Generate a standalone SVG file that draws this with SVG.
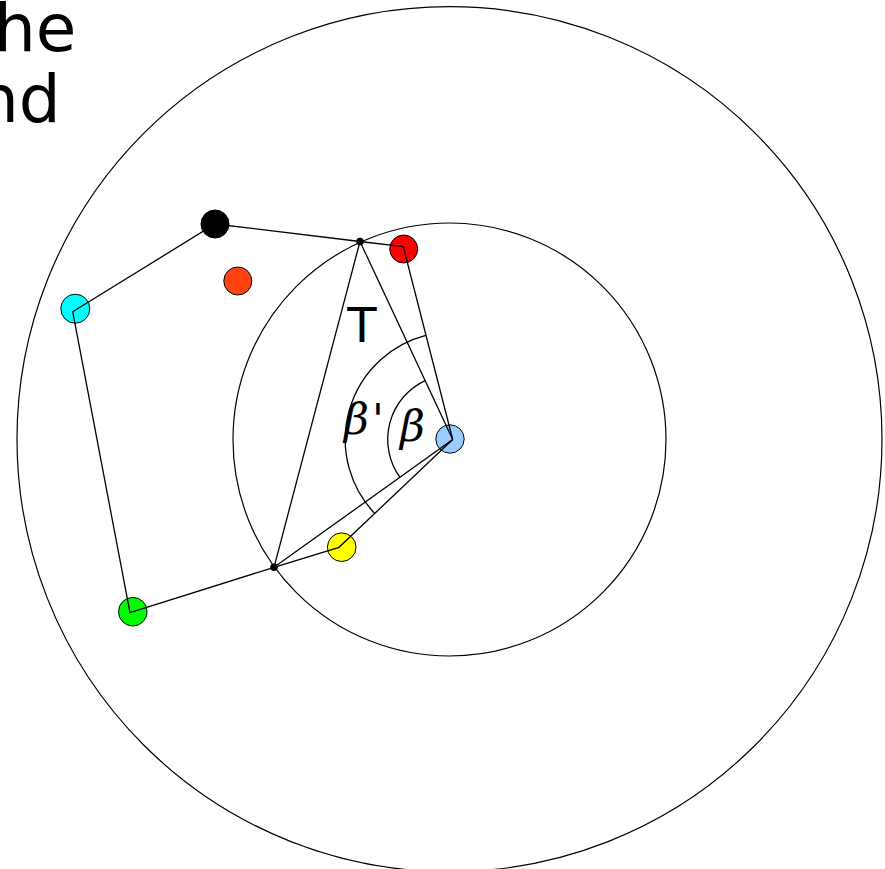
<svg xmlns="http://www.w3.org/2000/svg" width="885" height="869" viewBox="0 0 885 869">
<style>
.ln{fill:none;stroke:#000;stroke-width:1.3}
.ring{fill:none;stroke:#000;stroke-width:1.2}
.nd{stroke:#000;stroke-width:1}
.big{font-family:"DejaVu Sans",sans-serif;font-size:66px;fill:#000}
.lbl{font-family:"DejaVu Sans",sans-serif;font-size:48px;fill:#000}
.gr{font-family:"DejaVu Serif",serif;font-style:italic;font-size:43px;fill:#000}
</style>
<rect width="885" height="869" fill="#fff"/>
<text class="big" x="-6" y="51">he</text>
<text class="big" x="-23" y="122">nd</text>
<circle class="ring" cx="449.5" cy="439.2" r="432.5"/>
<circle class="ring" cx="449.5" cy="439.5" r="216.5"/>
<g id="node-orange"><circle class="nd" cx="237.8" cy="281" r="14" fill="#ff4412"/></g>
<g id="node-black"><circle class="nd" cx="215" cy="224" r="14" fill="#000"/></g>
<g id="node-red"><circle class="nd" cx="403.7" cy="249" r="14" fill="#ff0000"/></g>
<g id="node-cyan"><circle class="nd" cx="75.3" cy="308.7" r="14.5" fill="#00ffff"/></g>
<g id="node-green"><circle class="nd" cx="132.8" cy="611.7" r="14.3" fill="#00ff00"/></g>
<g id="node-yellow"><circle class="nd" cx="341.7" cy="547.2" r="14.3" fill="#ffff00"/></g>
<g id="node-blue"><circle class="nd" cx="450" cy="439" r="14.2" fill="#99ccff"/></g>
<g id="connectors">
<polyline class="ln" points="72.7,311.7 215,224 360,241.5 403.3,246.7 452.7,439.5"/>
<polyline class="ln" points="72.7,311.7 130,612.7 274,567.3 339,547.3 452.7,439.5"/>
<line class="ln" x1="274" y1="567.3" x2="360" y2="241.5"/>
<line class="ln" x1="360" y1="241.5" x2="452.7" y2="439.5"/>
<line class="ln" x1="274" y1="567.3" x2="452.7" y2="439.5"/>
<path class="ln" d="M399.8,477.2 A65,65 0 0 1 425.1,380.6" stroke-width="1"/>
<path class="ln" d="M374.5,513.2 A107.5,107.5 0 0 1 425.8,335.4" stroke-width="1"/>
</g>
<g id="node-dot-top"><circle cx="360" cy="241.5" r="3.8" fill="#000"/></g>
<g id="node-dot-bottom"><circle cx="274" cy="567.3" r="3.8" fill="#000"/></g>
<text class="lbl" x="362" y="341.7" text-anchor="middle">T</text>
<text class="gr" x="344" y="434">β</text>
<text class="gr" x="372" y="434">'</text>
<text class="gr" x="400" y="440.5">β</text>
</svg>
